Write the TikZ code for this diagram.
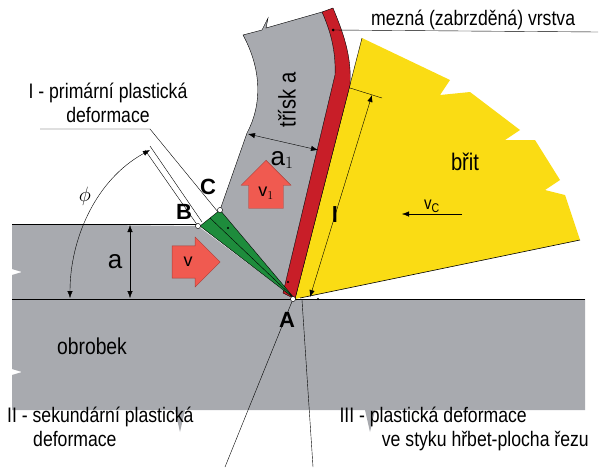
\documentclass[tikz,border=0pt]{standalone}
\usepackage{fontspec}
\setmainfont{Liberation Sans}
\newfontfamily\cond[FakeStretch=0.84]{Liberation Sans}
\usetikzlibrary{arrows.meta,shapes.arrows}
\definecolor{wgray}{RGB}{168,170,175}
\definecolor{cred}{RGB}{200,30,40}
\definecolor{tyel}{RGB}{250,220,20}
\definecolor{cgreen}{RGB}{30,140,60}
\definecolor{arr}{RGB}{240,90,80}
\tikzset{lbl/.style={font=\cond\fontsize{21}{24}\selectfont,inner sep=1pt},
 big/.style={font=\fontsize{22}{22}\selectfont\bfseries,inner sep=0pt},
 pt/.style={circle,draw,fill=white,inner sep=1.8pt},
 dim/.style={thin,{Latex[length=7pt]}-{Latex[length=7pt]}},
 blk/.style={single arrow,draw=arr!70!black,fill=arr,minimum height=48pt,minimum width=50pt,single arrow head extend=6pt,inner sep=6pt,font=\fontsize{18}{18}\selectfont}}
\begin{document}
\begin{tikzpicture}[x=1pt,y=-1pt]
\useasboundingbox (0,0) rectangle (609,467);
% workpiece
\fill[wgray] (12,224) -- (198,226) -- (295,299) -- (585,299) -- (585,410) -- (375,410) -- (370,432) -- (365,410) -- (185,410) -- (180,432) -- (175,410) -- (12,410) -- (12,375) -- (22,372) -- (12,369) -- (12,275) -- (22,272) -- (12,269) -- cycle;
\draw (12,224) -- (198,224);
\draw (12,299) -- (585,299);
% chip
\fill[wgray] (220,210) -- (247,133) .. controls (262,105) and (262,70) .. (243,35) -- (262,30) -- (268,18) -- (266,28) -- (322,12) .. controls (330,30) and (336,50) .. (335,75) -- (283,293) -- (295,299) -- cycle;
\draw (220,210) -- (247,133) .. controls (262,105) and (262,70) .. (243,35) -- (262,30) -- (268,18) -- (266,28) -- (322,12);
% tool
\fill[tyel] (295,299) -- (362,38) -- (450,80) -- (440,95) -- (470,92) -- (520,130) -- (505,140) -- (535,140) -- (560,180) -- (545,190) -- (565,195) -- (580,240) -- cycle;
\draw (295,299) -- (362,38);
\draw[semithick] (300,298) -- (580,240);
% red layer
\fill[cred,draw=black,thin] (322,12) .. controls (330,30) and (336,50) .. (335,75) -- (283,293) -- (295,299) -- (350,85) .. controls (352,55) and (342,30) .. (333,8) -- cycle;
% green
\fill[cgreen,draw=black,thin] (200,226) -- (220,210) -- (295,299) -- cycle;
\draw (210,218) -- (295,299);
% mezna label
\node[lbl,anchor=south west] (mz) at (370,31) {mezná (zabrzděná) vrstva};
\draw (333,30) -- (598,32);
\fill (333,30) circle (1.5);
\node[rotate=90,font=\cond\fontsize{24}{24}\selectfont,inner sep=0pt] (tr) at (287,100) {třísk a};
\draw[dim] (248,134) -- (318,150);
\node[font=\fontsize{26}{26}\selectfont,inner sep=0pt] (a1) at (282,160) {a$_1$};
\draw (350,88) -- (382,98);
\draw[dim] (372,95) -- (310,297);
\node[big] (l) at (335,215) {l};
\node[font=\cond\fontsize{24}{24}\selectfont] (brit) at (465,162) {břit};
\draw[-{Latex[length=7pt]}] (462,214) -- (402,214);
\node[font=\cond\fontsize{18}{18}\selectfont] (vc) at (432,206) {v\textsubscript{C}};
\node[blk,rotate=90] (v1) at (266,193) {\rotatebox{-90}{v$_1$}};
\node[blk] (v) at (188,262) {v};
\draw[dim] (130,225) -- (130,298);
\node[font=\fontsize{26}{26}\selectfont] (a) at (115,262) {a};
\draw (198,226) -- (145,150) (202,222) -- (150,146);
\draw[dim] (150,150) .. controls (95,180) and (70,240) .. (70,298);
\node[font=\fontsize{20}{20}\selectfont\rmfamily] (phi) at (85,196) {$\phi$};
\node[lbl,align=center] (p1) at (108,103) {I - primární plastická\\deformace};
\draw (40,129) -- (150,129) -- (218,212);
\node[pt] (B) at (198,226) {};
\node[pt] (C) at (220,210) {};
\node[pt] (A) at (293,299) {};
\fill (228,228) circle (1.2) (288,282) circle (1.2) (318,299) circle (1.2);
\node[big] (Bl) at (184,212) {B};
\node[big] (Cl) at (208,187) {C};
\node[big] (Al) at (287,320) {A};
\node[font=\cond\fontsize{23}{23}\selectfont] (ob) at (92,346) {obrobek};
\node[lbl,align=left,anchor=north west] (s2) at (6,406) {II - sekundární plastická\\\hspace*{26pt}deformace};
\node[lbl,align=right,anchor=north east] (s3) at (590,406) {III - plastická deformace\hspace*{62pt}\\ve styku hřbet-plocha řezu};
\draw (A) -- (225,467);
\draw (302,300) -- (313,467);
\end{tikzpicture}
\end{document}
